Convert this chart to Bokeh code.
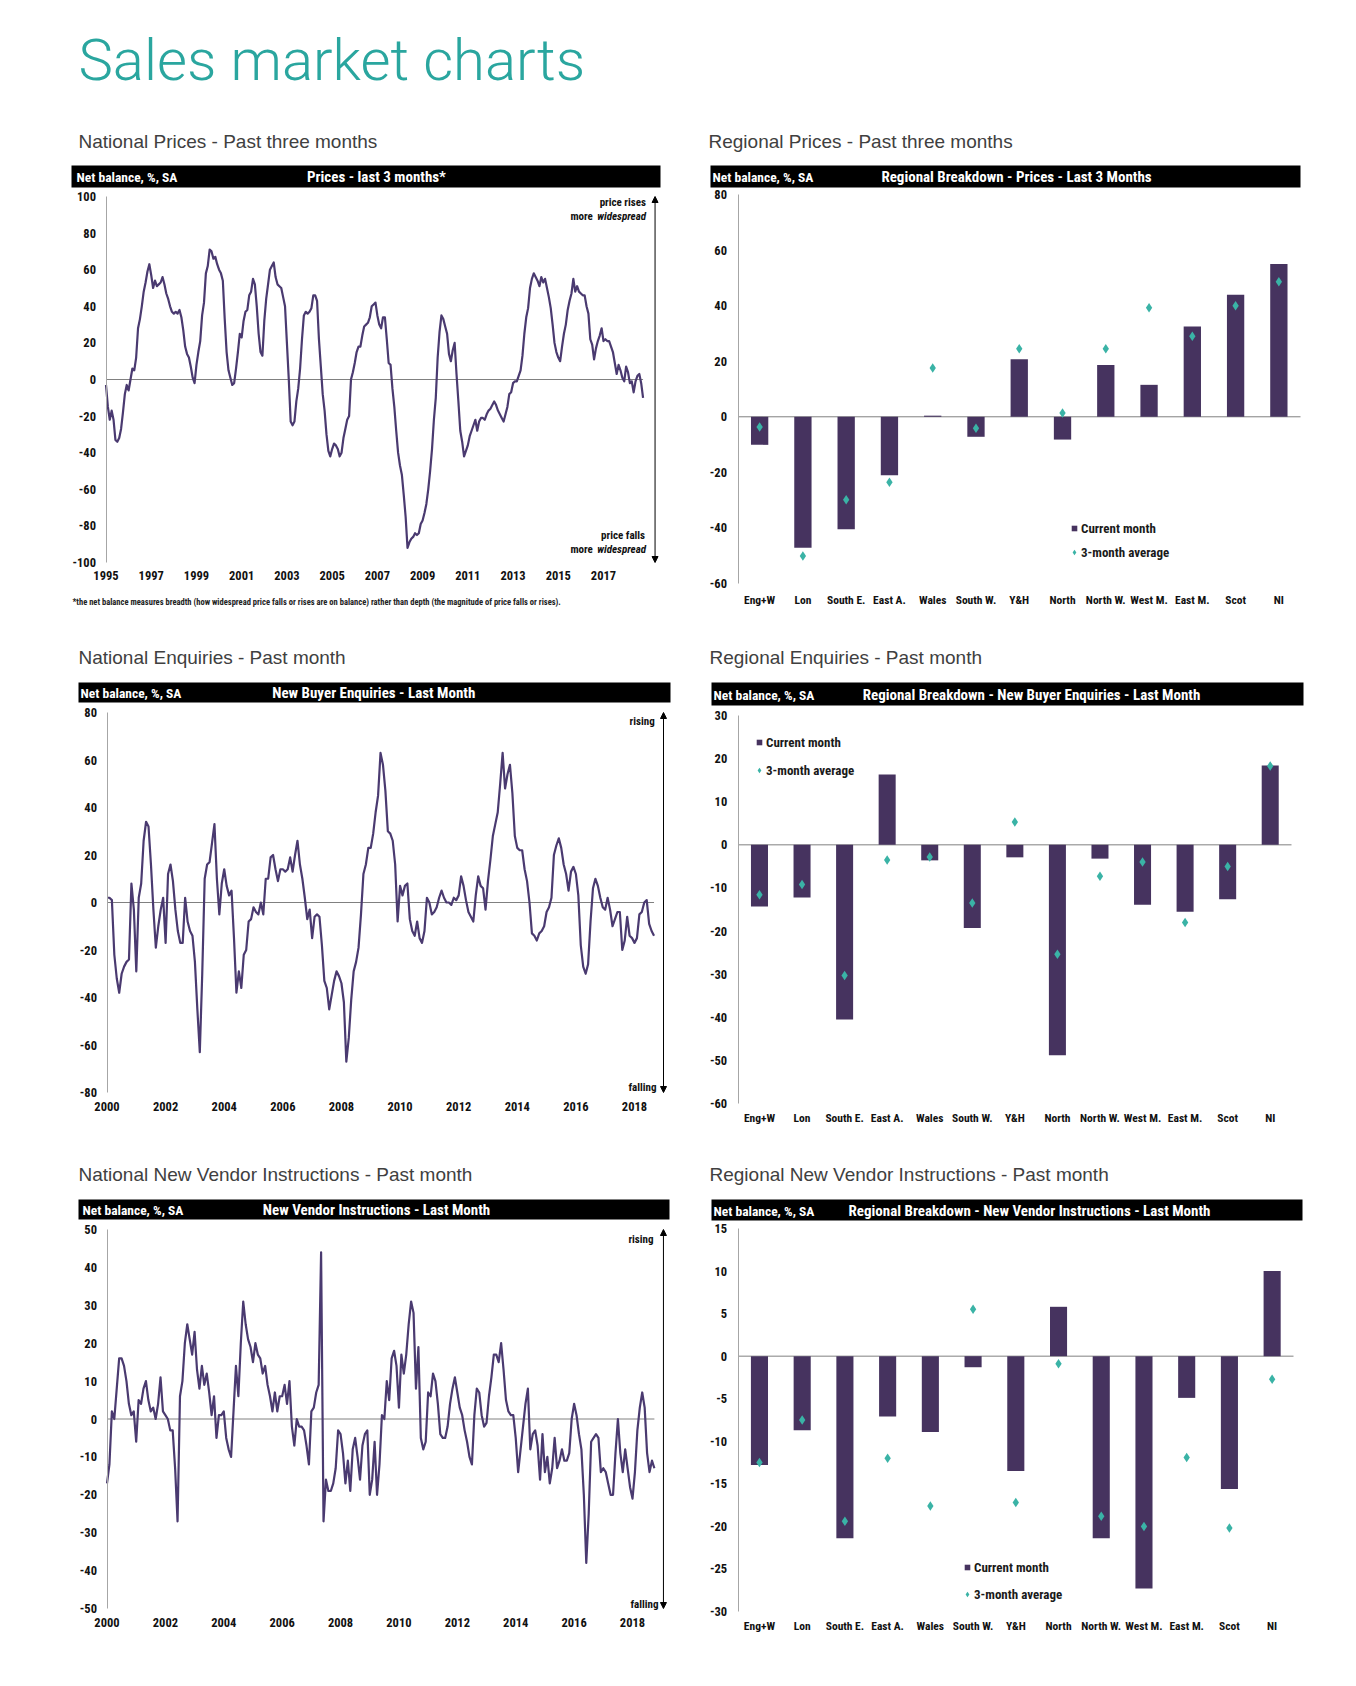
import numpy as np
from bokeh.plotting import figure
from bokeh.layouts import column, row
from bokeh.models import (Range1d, FixedTicker, Arrow, NormalHead,
                          Legend, LegendItem, Label, BoxAnnotation)
from bokeh.embed import file_html
from bokeh.resources import INLINE

# ---------------------------------------------------------------- data
PRICES_START = 1995
PRICES = [
    -3, -15, -22, -17, -22, -33, -34, -32, -27, -18, -8, -3,      # 1995
    -6, 0, 6, 5, 12, 28, 33, 40, 48, 53, 59, 63,                 # 1996
    57, 50, 54, 51, 52, 53, 56, 52, 47, 44, 40, 37,              # 1997
    36, 37, 36, 38, 34, 27, 18, 14, 12, 7, 1, -2,                # 1998
    8, 15, 21, 35, 42, 58, 62, 71, 70, 66, 67, 63,               # 1999
    60, 58, 54, 33, 15, 5, 1, -3, -2, 6, 15, 25,                 # 2000
    23, 32, 37, 38, 46, 48, 55, 52, 40, 25, 15, 13,              # 2001
    32, 44, 52, 60, 62, 64, 56, 52, 51, 50, 45, 40,              # 2002
    20, 0, -23, -25, -23, -12, -5, 6, 22, 35, 37, 36,            # 2003
    37, 39, 46, 46, 43, 22, 7, -8, -17, -30, -39, -42,           # 2004
    -38, -35, -36, -38, -42, -40, -32, -27, -22, -20, 0, 4,      # 2005
    9, 15, 18, 18, 24, 29, 30, 31, 34, 40, 41, 42,               # 2006
    35, 30, 28, 34, 34, 22, 9, 8, -5, -15, -28, -40,             # 2007
    -47, -52, -63, -75, -92, -89, -87, -86, -84, -85, -84, -79,  # 2008
    -77, -73, -68, -60, -50, -38, -22, -10, 12, 26, 35, 33,      # 2009
    29, 25, 14, 10, 16, 20, 3, -12, -28, -34, -42, -39,          # 2010
    -36, -31, -28, -25, -22, -28, -23, -21, -21, -22, -19, -17,  # 2011
    -16, -14, -12, -14, -17, -19, -21, -23, -19, -15, -8, -7,    # 2012
    -2, -1, -1, 2, 5, 13, 25, 34, 39, 50, 55, 58,                # 2013
    56, 54, 51, 56, 53, 55, 50, 45, 39, 30, 20, 15,              # 2014
    12, 10, 18, 25, 30, 38, 43, 47, 55, 48, 51, 48,              # 2015
    47, 46, 46, 40, 36, 22, 19, 11, 17, 21, 24, 28,              # 2016
    21, 22, 21, 21, 18, 15, 9, 3, 8, 5, 1, -1,                   # 2017
    7, 4, -2, -1, -7, -1, 2, 3, -2, -10,                         # 2018
]

ENQ_START = 2000
ENQUIRIES = [
    2, 2, 1, -22, -32, -38, -30, -27, -25, -24, 8, -3,           # 2000
    -29, 2, 8, 26, 34, 32, 16, -3, -19, -10, -3, 2,              # 2001
    -17, 12, 16, 9, -3, -12, -17, -17, 2, -8, -12, -14,          # 2002
    -25, -45, -63, -30, 10, 16, 17, 25, 33, 10, -5, 8,           # 2003
    14, 7, 3, 5, -15, -38, -29, -36, -22, -20, -8, -7,           # 2004
    -2, -4, -5, 0, -5, 10, 10, 19, 20, 14, 9, 14,                # 2005
    14, 13, 14, 19, 13, 20, 26, 16, 10, 2, -7, -3,               # 2006
    -15, -6, -5, -6, -18, -33, -36, -45, -39, -33, -29, -31,     # 2007
    -34, -42, -67, -57, -41, -29, -25, -19, -5, 12, 16, 23,      # 2008
    23, 29, 38, 45, 63, 58, 47, 30, 29, 26, 16, -8,              # 2009
    7, 3, 7, 8, -7, -12, -14, -8, -15, -17, -12, 2,              # 2010
    0, -5, -4, -2, 2, 5, 2, 0, 0, -1, 2, 1,                      # 2011
    3, 11, 7, 1, -4, -6, -8, 3, 11, 7, 6, -3,                    # 2012
    9, 18, 28, 33, 38, 50, 63, 48, 54, 58, 46, 28,               # 2013
    23, 22, 22, 14, 9, 0, -13, -14, -16, -13, -12, -10,          # 2014
    -4, -2, 2, 20, 24, 27, 23, 16, 12, 5, 13, 15,                # 2015
    12, 3, -18, -27, -30, -26, -8, 6, 10, 7, 2, -2,              # 2016
    -3, 2, -3, -10, -7, -4, -4, -20, -16, -6, -14, -15,          # 2017
    -17, -15, -5, -4, 0, 1, -9, -12, -14,                        # 2018
]

NVI_START = 2000
VENDOR = [
    -17, -12, 2, 0, 8, 16, 16, 14, 10, 4, 1, 2,                  # 2000
    -6, 5, 4, 8, 10, 5, 2, 3, 0, 4, 11, 2,                       # 2001
    1, 0, -3, -3, -13, -27, 6, 10, 20, 25, 21, 17,               # 2002
    23, 13, 8, 14, 9, 12, 7, 1, 6, -5, 1, 1,                     # 2003
    2, -5, -8, -10, 2, 14, 6, 20, 31, 25, 21, 19,                # 2004
    15, 20, 17, 16, 12, 14, 9, 6, 2, 7, 2, 6,                    # 2005
    6, 9, 4, 10, -2, -7, 0, -2, -2, -3, -7, -12,                 # 2006
    2, 3, 7, 9, 44, -27, -16, -19, -19, -17, -13, -3,            # 2007
    -4, -9, -17, -11, -19, -8, -5, -10, -16, -7, -4, -3,         # 2008
    -20, -16, -6, -20, -12, 1, 0, 10, 5, 16, 18, 14,             # 2009
    3, 17, 12, 17, 25, 31, 28, 8, 19, -5, -8, -6,                # 2010
    7, 6, 12, 10, 4, -4, -5, -5, -2, 4, 8, 11,                   # 2011
    7, 3, 1, -3, -6, -10, -12, 1, 8, 7, 1, -2,                   # 2012
    -1, 6, 11, 17, 17, 15, 20, 13, 5, 2, 1, 1,                   # 2013
    -5, -14, -8, -2, 4, 8, -8, -4, -3, -7, -16, -4,              # 2014
    -14, -10, -17, -13, -5, -13, -11, -8, -11, -11, -9, 0,       # 2015
    4, 1, -4, -8, -20, -38, -25, -6, -5, -4, -5, -14,            # 2016
    -13, -14, -17, -20, -20, -9, 0, -9, -14, -8, -13, -18,       # 2017
    -21, -14, -3, 3, 7, 3, -9, -14, -11, -13,                    # 2018
]

REGIONS = ["Eng+W", "Lon", "South E.", "East A.", "Wales", "South W.", "Y&H",
           "North", "North W.", "West M.", "East M.", "Scot", "NI"]
REG_PRICE_CUR = [-10.1, -47.1, -40.5, -21.0, 0.4, -7.2, 20.7, -8.2, 18.6, 11.5, 32.5, 43.9, 55.0]
REG_PRICE_AVG = [-3.7, -50.1, -29.9, -23.6, 17.6, -4.1, 24.5, 1.4, 24.5, 39.2, 29.0, 40.0, 48.6]
REG_ENQ_CUR = [-14.3, -12.2, -40.5, 16.3, -3.6, -19.3, -2.9, -48.8, -3.2, -13.9, -15.5, -12.6, 18.4]
REG_ENQ_AVG = [-11.6, -9.2, -30.3, -3.5, -2.8, -13.5, 5.3, -25.4, -7.3, -4.0, -18.0, -5.0, 18.3]
REG_NVI_CUR = [-12.8, -8.7, -21.4, -7.1, -8.9, -1.3, -13.5, 5.8, -21.4, -27.3, -4.9, -15.6, 10.0]
REG_NVI_AVG = [-12.5, -7.5, -19.4, -12.0, -17.6, 5.5, -17.2, -0.9, -18.8, -20.0, -11.9, -20.2, -2.7]

PRICE_YEARS = list(range(1995, 2018, 2))
LATE_YEARS = list(range(2000, 2019, 2))

FOOTNOTE = ("*the net balance measures breadth (how widespread price falls or rises are on "
            "balance) rather than depth (the magnitude of price falls or rises).")

# ---------------------------------------------------------------- style
SANS = "Liberation Sans, Arial, sans-serif"
NARROW = "Liberation Sans Narrow, Noto Sans Condensed, Roboto Condensed, Roboto, sans-serif"
TITLE_FONT = "Roboto Light, Roboto, sans-serif"
BAR = "#46335f"
LINE = "#4a3a70"
TEAL = "#3ab3a6"
TITLE_TEAL = "#2aa69f"
AXIS_GREY = "#a6a6a6"
ZERO_GREY = "#808080"

LEFT_W = 690
RIGHT_W = 666


def span_range(canvas0, canvas1, p0, v0, p1, v1):
    """data range whose ends fall on the canvas edges, given two anchors (page px -> value)"""
    k = (v1 - v0) / (p1 - p0)
    a = v0 + (canvas0 - p0) * k
    b = v0 + (canvas1 - p0) * k
    return a, b


def make_fig(box, xanch, yanch):
    """box = (left, top, width, height) in page px; the whole canvas is the frame."""
    L, T, W, H = box
    xa, xb = span_range(L, L + W, *xanch)
    yb, yt = span_range(T + H, T, *yanch)
    p = figure(width=W, height=H, x_range=Range1d(xa, xb), y_range=Range1d(yb, yt),
               toolbar_location=None, output_backend="svg", min_border=0)
    p.xgrid.visible = False
    p.ygrid.visible = False
    p.outline_line_color = None
    return p


def slabel(p, box, px, py, text, font=NARROW, size="12px", style="bold", color="#111111",
           align="left"):
    L, T, W, H = box
    p.add_layout(Label(x=px - L, y=T + H - py, x_units="screen", y_units="screen", text=text,
                       text_font=font, text_font_size=size, text_font_style=style,
                       text_color=color, text_align=align, text_baseline="middle"))


def add_header(p, box, subtitle, sub_xy, bar, nb_x, title, title_x):
    L, T, W, H = box
    slabel(p, box, sub_xy[0], sub_xy[1], subtitle, font=SANS, size="19px", style="normal",
           color="#404040")
    l, r, t, b = bar
    p.add_layout(BoxAnnotation(left=l - L, right=r - L, top=T + H - t, bottom=T + H - b,
                               left_units="screen", right_units="screen",
                               top_units="screen", bottom_units="screen",
                               fill_color="black", fill_alpha=1.0, line_color=None))
    cy = (t + b) / 2 + 0.5
    slabel(p, box, nb_x, cy, "Net balance, %, SA", size="13.5px", color="white")
    slabel(p, box, title_x, cy, title, size="15px", color="white", align="center")


def style_axes(p, xloc, yloc, ybounds, xsize, xstand, ystand, ysize="12.5px"):
    for ax in (p.xaxis[0], p.yaxis[0]):
        ax.major_tick_line_color = None
        ax.minor_tick_line_color = None
        ax.major_tick_out = 0
        ax.major_tick_in = 0
        ax.minor_tick_out = 0
        ax.minor_tick_in = 0
        ax.major_label_text_font = NARROW
        ax.major_label_text_font_style = "bold"
        ax.major_label_text_color = "#111111"
    p.xaxis.fixed_location = xloc
    p.xaxis.axis_line_color = None
    p.xaxis.major_label_text_font_size = xsize
    p.xaxis.major_label_standoff = xstand
    p.yaxis.fixed_location = yloc
    p.yaxis.bounds = ybounds
    p.yaxis.axis_line_color = AXIS_GREY
    p.yaxis.axis_line_width = 1
    p.yaxis.major_label_text_font_size = ysize
    p.yaxis.major_label_standoff = ystand


def line_chart(box, xanch, yanch, yr, yticks, xticks, start, values, notes, arrow_x, xstand):
    p = make_fig(box, xanch, yanch)
    xs = start + np.arange(len(values)) / 12.0
    p.line(x=[xs[0], xs[-1]], y=[0, 0], line_color=ZERO_GREY, line_width=1)
    p.line(x=xs, y=values, line_color=LINE, line_width=2.2, line_join="round")
    p.xaxis.ticker = FixedTicker(ticks=xticks)
    p.yaxis.ticker = FixedTicker(ticks=yticks)
    p.yaxis.major_label_overrides = {v: str(v) for v in yticks}
    style_axes(p, yr[0], start, yr, "12.5px", xstand, 10)
    for (nx, ny, txt, italic) in notes:
        p.add_layout(Label(x=nx, y=ny, text=txt, text_font=NARROW, text_font_size="11px",
                           text_font_style="bold italic" if italic else "bold",
                           text_color="#111111", text_align="right", text_baseline="middle"))
    head = dict(size=6, fill_color="black", line_color="black", line_width=1)
    p.add_layout(Arrow(start=NormalHead(**head), end=NormalHead(**head),
                       x_start=arrow_x, y_start=yr[0], x_end=arrow_x, y_end=yr[1],
                       line_color="black", line_width=1))
    return p


def bar_chart(box, xanch, yanch, yr, yticks, cur, avg, legend_px, spacing, xstand):
    p = make_fig(box, xanch, yanch)
    L, T, W, H = box
    pos = np.arange(len(REGIONS))
    p.line(x=[pos[0] - 0.5, pos[-1] + 0.5], y=[0, 0], line_color=ZERO_GREY, line_width=1)
    p.vbar(x=pos, top=cur, bottom=0, width=0.4, fill_color=BAR, line_color=None)
    dia = p.scatter(x=pos, y=avg, marker="diamond", size=9.5, fill_color=TEAL, line_color=None)
    # legend proxy for the bars (zero-size markers at the bar ends)
    sq = p.scatter(x=pos, y=cur, marker="square", size=0, fill_color=BAR, line_color=None)
    p.xaxis.ticker = FixedTicker(ticks=list(pos))
    p.xaxis.major_label_overrides = {int(i): name for i, name in zip(pos, REGIONS)}
    p.yaxis.ticker = FixedTicker(ticks=yticks)
    p.yaxis.major_label_overrides = {v: str(v) for v in yticks}
    style_axes(p, yr[0], pos[0] - 0.5, yr, "11.5px", xstand, 11)
    lx, lb = legend_px
    leg = Legend(items=[LegendItem(label="Current month", renderers=[sq], index=0),
                        LegendItem(label="3-month average", renderers=[dia], index=0)],
                 location=(lx - L, T + H - lb), glyph_width=14, glyph_height=16,
                 label_height=16, spacing=spacing, label_standoff=0, padding=0, margin=0,
                 border_line_color=None, background_fill_alpha=0,
                 label_text_font=NARROW, label_text_font_size="13px",
                 label_text_font_style="bold", label_text_color="#1a1a1a")
    p.add_layout(leg)
    return p


# ---------------------------------------------------------------- row 1 (page y 0 - 612)
B1 = (0, 0, LEFT_W, 612)
c1 = line_chart(B1, (105.5, 1995, 603, 2017), (196, 100, 562, -100),
                (-100, 100), list(range(-100, 101, 20)), PRICE_YEARS, PRICES_START, PRICES,
                [(2018.88, 96.7, "price rises", False),
                 (2018.88, 89.1, "widespread", True),
                 (2016.53, 89.1, "more", False),
                 (2018.84, -85.2, "price falls", False),
                 (2018.88, -92.9, "widespread", True),
                 (2016.53, -92.9, "more", False)],
                2019.28, 8)
slabel(c1, B1, 78, 59, "Sales market charts", font=TITLE_FONT, size="58px",
       style="normal", color=TITLE_TEAL)
add_header(c1, B1, "National Prices - Past three months", (78, 141), (71, 660, 165, 187), 76,
           "Prices - last 3 months*", 376)
slabel(c1, B1, 72, 601, FOOTNOTE, size="8.5px", color="#222222")

B2 = (LEFT_W, 0, RIGHT_W, 612)
c2 = bar_chart(B2, (737.5, -0.5, 1300, 12.5), (194, 80, 583, -60),
               (-60, 80), list(range(-60, 81, 20)), REG_PRICE_CUR, REG_PRICE_AVG,
               (1067, 560), 8, 9)
add_header(c2, B2, "Regional Prices - Past three months", (708, 141), (710, 1300, 165, 187), 712,
           "Regional Breakdown - Prices - Last 3 Months", 1016)

# ---------------------------------------------------------------- row 2 (page y 612 - 1130)
B3 = (0, 612, LEFT_W, 518)
c3 = line_chart(B3, (106.5, 2000, 634, 2018), (712, 80, 1092, -80),
                (-80, 80), list(range(-80, 81, 20)), LATE_YEARS, ENQ_START, ENQUIRIES,
                [(2018.69, 76.2, "rising", False), (2018.75, -77.9, "falling", False)],
                2018.99, 9)
add_header(c3, B3, "National Enquiries - Past month", (78, 657), (78, 670, 682, 702), 80,
           "New Buyer Enquiries  - Last Month", 375)

B4 = (LEFT_W, 612, RIGHT_W, 518)
c4 = bar_chart(B4, (737.7, -0.5, 1291, 12.5), (715, 30, 1103, -60),
               (-60, 30), list(range(-60, 31, 10)), REG_ENQ_CUR, REG_ENQ_AVG,
               (752, 778), 12, 7)
add_header(c4, B4, "Regional Enquiries - Past month", (709, 657), (711, 1303, 682, 705), 713,
           "Regional Breakdown - New Buyer Enquiries - Last Month", 1031)

# ---------------------------------------------------------------- row 3 (page y 1130 - 1660)
B5 = (0, 1130, LEFT_W, 530)
c5 = line_chart(B5, (106.5, 2000, 632, 2018), (1229, 50, 1608, -50),
                (-50, 50), list(range(-50, 51, 10)), LATE_YEARS, NVI_START, VENDOR,
                [(2018.72, 47.4, "rising", False), (2018.89, -48.9, "falling", False)],
                2019.06, 9)
add_header(c5, B5, "National New Vendor Instructions - Past month", (78, 1174),
           (78, 669, 1199, 1219), 82, "New Vendor Instructions - Last Month", 376)

B6 = (LEFT_W, 1130, RIGHT_W, 530)
c6 = bar_chart(B6, (737.6, -0.5, 1293, 12.5), (1228, 15, 1611, -30),
               (-30, 15), list(range(-30, 16, 5)), REG_NVI_CUR, REG_NVI_AVG,
               (960, 1602), 11, 7)
add_header(c6, B6, "Regional New Vendor Instructions - Past month", (709, 1174),
           (711, 1302, 1199, 1220), 713,
           "Regional Breakdown - New Vendor Instructions - Last Month", 1029)

layout = column(row(c1, c2), row(c3, c4), row(c5, c6))

open("out.html", "w").write(file_html(layout, INLINE))
